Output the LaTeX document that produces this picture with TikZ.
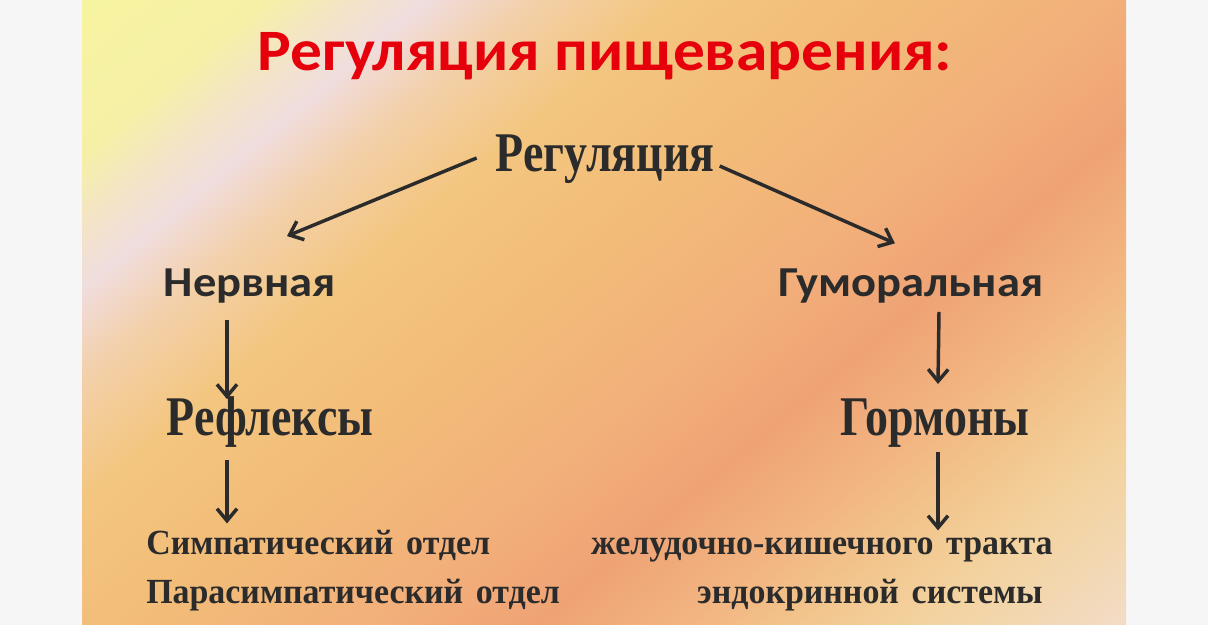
\documentclass[tikz,border=0pt]{standalone}
\usepackage{fontspec}
\setmainfont{Liberation Serif}
\newfontfamily\headfont{Carlito}[FakeStretch=1.08]
\newfontfamily\kindfont{Carlito}[FakeStretch=1.09]
\newfontfamily\serifcond{Liberation Serif}[FakeStretch=0.82]
\newfontfamily\serifnarrow{Liberation Serif}[FakeStretch=0.96, WordSpace=1.5]
\usetikzlibrary{arrows.meta}
\definecolor{marginbg}{RGB}{246,246,246}
\definecolor{titlered}{RGB}{230,0,12}
\definecolor{ink}{RGB}{43,43,43}
\definecolor{bgA}{RGB}{247,244,160}
\definecolor{bgB}{RGB}{246,240,166}
\definecolor{bgC}{RGB}{243,228,200}
\definecolor{bgD}{RGB}{240,221,222}
\definecolor{bgE}{RGB}{243,208,170}
\definecolor{bgF}{RGB}{243,198,128}
\definecolor{bgG}{RGB}{242,188,120}
\definecolor{bgH}{RGB}{242,175,122}
\definecolor{bgI}{RGB}{239,163,117}
\definecolor{bgJ}{RGB}{242,180,128}
\definecolor{bgK}{RGB}{242,198,142}
\definecolor{bgL}{RGB}{243,210,158}
\definecolor{bgM}{RGB}{242,216,180}
\definecolor{bgN}{RGB}{243,220,200}
\pgfdeclarehorizontalshading{slidebg}{100bp}{color(0bp)=(bgA); color(14.8bp)=(bgA);
  color(19.8bp)=(bgB); color(22.3bp)=(bgC); color(24.3bp)=(bgD); color(27.3bp)=(bgE);
  color(31.3bp)=(bgF); color(37.3bp)=(bgG); color(43.8bp)=(bgH); color(48.3bp)=(bgI);
  color(52.3bp)=(bgJ); color(55.8bp)=(bgK); color(58.8bp)=(bgL); color(62.3bp)=(bgM);
  color(64.8bp)=(bgN); color(100bp)=(bgN)}
\tikzstyle{heading} = [font=\headfont\bfseries\fontsize{44}{50}\selectfont,
    text=titlered, inner sep=0pt]
\tikzstyle{bigword} = [font=\serifcond\bfseries\fontsize{42}{48}\selectfont,
    text=ink, inner sep=0pt, text height=28pt, text depth=9pt]
\tikzstyle{kind} = [font=\kindfont\bfseries\fontsize{32}{38}\selectfont,
    text=ink, inner sep=0pt, text height=19pt, text depth=6pt]
\tikzstyle{part} = [font=\serifnarrow\bfseries\fontsize{26.5}{30}\selectfont,
    text=ink, inner sep=0pt, text height=17pt, text depth=6pt]
\tikzstyle{line} = [draw=ink, line width=2.6pt, -{Straight Barb[length=9pt,width=15pt]}]

\begin{document}
\begin{tikzpicture}[x=0.75pt, y=-0.75pt]
    \useasboundingbox (0,0) rectangle (1208,625);
    % Background
    \fill[marginbg] (0,0) rectangle (1208,625);
    \begin{scope}
        \clip (82,0) rectangle (1126,625);
        \shade[shading=slidebg, shading angle=-50] (82,0) rectangle (1232,1150);
    \end{scope}
    % Place nodes
    \node [heading, anchor=base] (title) at (605,70) {Регуляция пищеварения:};
    \node [bigword] (reg) at (605,159) {Регуляция};
    \node [kind] (nerv) at (250,288) {Нервная};
    \node [kind] (humor) at (911,288) {Гуморальная};
    \node [bigword, below of=nerv, node distance=101pt, xshift=15pt] (refl) {Рефлексы};
    \node [bigword, below of=humor, node distance=101pt, xshift=18pt] (horm) {Гормоны};
    \node [part, anchor=west] (symp) at (146,547) {Симпатический отдел};
    \node [part, anchor=west] (para) at ([yshift=-36.75pt]symp.west) {Парасимпатический отдел};
    \node [part, anchor=east] (gastro) at (1053,547) {желудочно-кишечного тракта};
    \node [part, anchor=east] (endo) at (1043,596) {эндокринной системы};
    % Draw edges
    \path [line] ([xshift=-14pt,yshift=0.75pt]reg.west)    -- ([xshift=27.75pt,yshift=26.25pt]nerv.north);
    \path [line] ([xshift=3.75pt,yshift=-5.25pt]reg.east)  -- ([xshift=-12pt,yshift=20.8pt]humor.north);
    \path [line] ([xshift=-17.25pt,yshift=-11.25pt]nerv.south) -- ([xshift=-32.25pt,yshift=-1pt]refl.north);
    \path [line] ([xshift=21pt,yshift=-5.25pt]humor.south) -- ([xshift=2.25pt,yshift=10.3pt]horm.north);
    \path [line] ([xshift=-32.25pt,yshift=-9pt]refl.south) -- ([xshift=60.75pt,yshift=6pt]symp.north west);
    \path [line] ([xshift=2.25pt,yshift=-3pt]horm.south)   -- ([xshift=-86.25pt,yshift=0.75pt]gastro.north east);
\end{tikzpicture}
\end{document}
